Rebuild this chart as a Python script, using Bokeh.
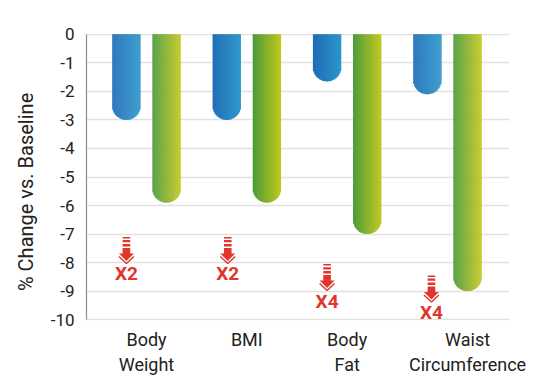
import numpy as np
from bokeh.plotting import figure
from bokeh.models import FixedTicker, Range1d, ColumnDataSource
from bokeh.embed import file_html
from bokeh.resources import INLINE
from bokeh.core.properties import value

# ---- data ----
categories = ["Body\nWeight", "BMI", "Body\nFat", "Waist\nCircumference"]
cat_x = [0, 1, 2, 3]
label_x = [0, 1, 2, 3.2]
series_blue = [-3.0, -3.0, -1.65, -2.1]
series_green = [-5.9, -5.9, -7.0, -9.0]
multiplier_text = ["X2", "X2", "X4", "X4"]
arrow_x = [-0.2, 0.81, 1.8, 2.84]
arrow_top = [-7.1, -7.1, -8.05, -8.45]
y_ticks = list(range(0, -11, -1))

# ---- geometry ----
FW, FH = 423, 287
X0, X1 = -0.598, 3.618
Y0, Y1 = -10.03, 0.03
PXX = (X1 - X0) / FW
PXY = (Y1 - Y0) / FH

RED = "#e0362c"
TEXT = "#222222"
GRID = "#e2e2e2"

p = figure(frame_width=FW, frame_height=FH, output_backend="svg", toolbar_location=None,
           x_range=Range1d(X0, X1), y_range=Range1d(Y0, Y1),
           min_border_left=86, min_border_right=30, min_border_top=33, min_border_bottom=20)
p.outline_line_color = None
p.background_fill_color = "white"
p.border_fill_color = "white"
p.xgrid.visible = False

# x axis carries the category labels
p.xaxis.ticker = FixedTicker(ticks=label_x)
p.xaxis.major_label_overrides = {lx: c for lx, c in zip(label_x, categories)}
p.xaxis.axis_line_color = None
p.xaxis.major_tick_line_color = None
p.xaxis.major_tick_out = 0
p.xaxis.major_tick_in = 0
p.xaxis.minor_tick_line_color = None
p.xaxis.major_label_standoff = 8
p.xaxis.major_label_text_font = "Roboto"
p.xaxis.major_label_text_font_size = "18px"
p.xaxis.major_label_text_color = TEXT
p.xaxis.major_label_text_line_height = 1.2

p.yaxis.ticker = FixedTicker(ticks=y_ticks)
p.yaxis.major_label_overrides = {t: str(t) for t in y_ticks}
p.yaxis.bounds = (-10, 0)
p.yaxis.axis_line_color = "#8c8c8c"
p.yaxis.axis_line_width = 1.2
p.yaxis.major_tick_line_color = None
p.yaxis.major_tick_out = 0
p.yaxis.major_tick_in = 0
p.yaxis.minor_tick_line_color = None
p.yaxis.major_label_standoff = 12
p.yaxis.major_label_text_font = "Roboto"
p.yaxis.major_label_text_font_size = "17px"
p.yaxis.major_label_text_color = TEXT
p.yaxis.axis_label = "% Change vs. Baseline" + "\u00a0" * 6
p.yaxis.axis_label_text_font = "Roboto"
p.yaxis.axis_label_text_font_style = "normal"
p.yaxis.axis_label_text_font_size = "20px"
p.yaxis.axis_label_text_color = TEXT
p.yaxis.axis_label_standoff = 10
p.ygrid.grid_line_color = GRID
p.ygrid.grid_line_width = 1.6


def lerp(c1, c2, t):
    return "#%02x%02x%02x" % tuple(int(round(a + (b - a) * t)) for a, b in zip(c1, c2))


def bar_strips(xc_list, vals, c_left, c_right, offset):
    L, R, T, B, C = [], [], [], [], []
    r = 14.0
    n = 28
    for xc, v in zip(xc_list, vals):
        for i in range(n):
            dx = -13.5 + i
            t = i / (n - 1)
            cx = xc + offset
            L.append(cx + (dx - 0.7) * PXX)
            R.append(cx + (dx + 0.7) * PXX)
            T.append(0)
            B.append(v + (r - np.sqrt(r * r - dx * dx)) * PXY)
            C.append(lerp(c_left, c_right, t))
    return ColumnDataSource(dict(left=L, right=R, top=T, bottom=B, color=C))


blue_src = bar_strips(cat_x, series_blue, (30, 108, 182), (44, 150, 203), -0.2)
green_src = bar_strips(cat_x, series_green, (76, 155, 58), (192, 199, 30), 0.2)
p.quad(left="left", right="right", top="top", bottom="bottom", fill_color="color",
       line_color=None, source=blue_src)
p.quad(left="left", right="right", top="top", bottom="bottom", fill_color="color",
       line_color=None, source=green_src)

# ---- red arrows ----
stripe_rows = [(0, 1.6), (3.2, 5.4), (7.0, 9.6), (11.0, 18.0)]
hw = 3.8
qL, qR, qT, qB = [], [], [], []
tri_xs, tri_ys, chev_xs, chev_ys = [], [], [], []
tx, ty = [], []
for ax, at in zip(arrow_x, arrow_top):
    for a, b in stripe_rows:
        qL.append(ax - hw * PXX)
        qR.append(ax + hw * PXX)
        qT.append(at - a * PXY)
        qB.append(at - b * PXY)
    tri_xs.append([ax - 7.5 * PXX, ax + 7.5 * PXX, ax])
    tri_ys.append([at - 16.5 * PXY, at - 16.5 * PXY, at - 24 * PXY])
    chev_xs.append([ax - 7.5 * PXX, ax, ax + 7.5 * PXX])
    chev_ys.append([at - 19.5 * PXY, at - 26.5 * PXY, at - 19.5 * PXY])
    tx.append(ax)
    ty.append(at - 37 * PXY)

p.quad(left=qL, right=qR, top=qT, bottom=qB, fill_color=RED, line_color=None)
p.patches(xs=tri_xs, ys=tri_ys, fill_color=RED, line_color=None)
p.multi_line(xs=chev_xs, ys=chev_ys, line_color=RED, line_width=1.4)
p.text(x=tx, y=ty, text=multiplier_text, text_font=value("Roboto"), text_font_style="bold",
       text_font_size="19px", text_color=RED, text_align="center", text_baseline="middle")

open("out.html", "w").write(file_html(p, INLINE))
